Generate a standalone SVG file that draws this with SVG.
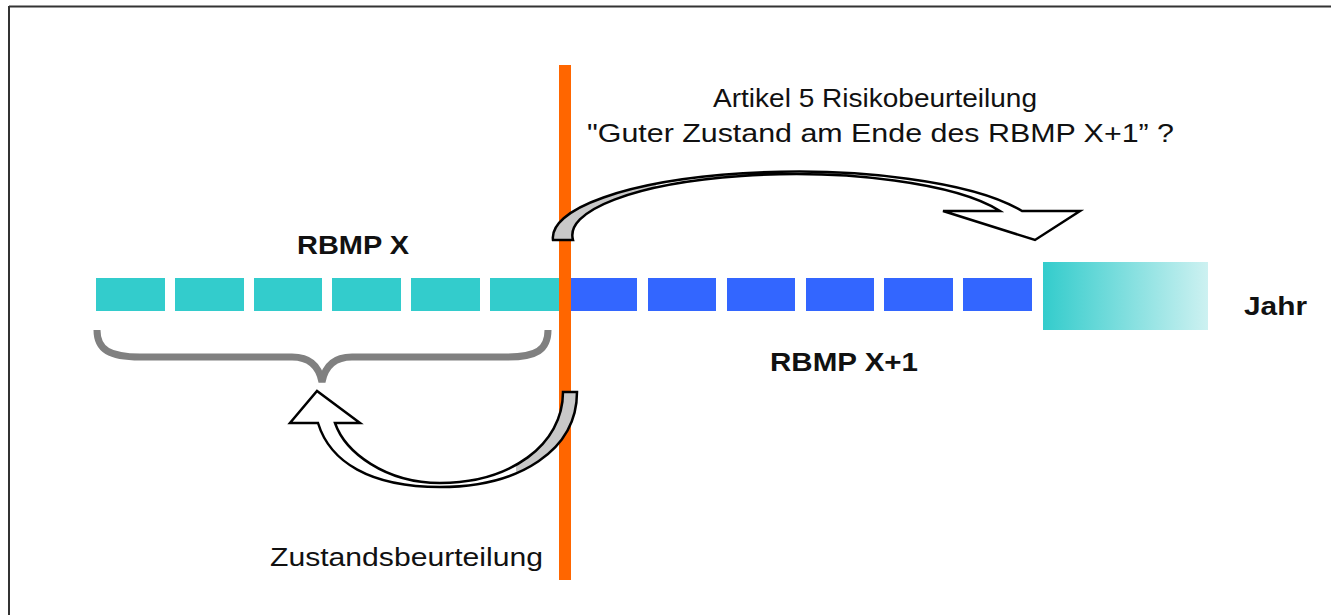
<svg xmlns="http://www.w3.org/2000/svg" width="1331" height="615" viewBox="0 0 1331 615">
<style>
.t{font-family:"Liberation Sans",Arial,sans-serif;font-size:25px;fill:#111}
.b{font-weight:bold}
.teal{fill:#33cccc}
.blue{fill:#3366ff}
.arrow{stroke:#000;stroke-width:2.5;stroke-linejoin:miter}
</style>
<defs>
<linearGradient id="fade" x1="0" y1="0" x2="1" y2="0">
<stop offset="0" stop-color="#33cccc"/>
<stop offset="1" stop-color="#cdf1f1"/>
</linearGradient>
<linearGradient id="upFill" gradientUnits="userSpaceOnUse" x1="550" y1="0" x2="1080" y2="0">
<stop offset="0" stop-color="#c8c8c8"/>
<stop offset="0.2" stop-color="#c8c8c8"/>
<stop offset="0.2" stop-color="#ffffff"/>
<stop offset="1" stop-color="#ffffff"/>
</linearGradient>
<linearGradient id="lowFill" gradientUnits="userSpaceOnUse" x1="290" y1="0" x2="580" y2="0">
<stop offset="0" stop-color="#ffffff"/>
<stop offset="0.78" stop-color="#ffffff"/>
<stop offset="0.78" stop-color="#c8c8c8"/>
<stop offset="1" stop-color="#c8c8c8"/>
</linearGradient>
</defs>
<rect x="0" y="0" width="1331" height="615" fill="#fff"/>
<g id="frame" stroke="#333" stroke-width="2" fill="none">
<line x1="9" y1="6.5" x2="1331" y2="6.5"/>
<line x1="9" y1="6" x2="9" y2="615"/>
</g>
<g id="rbmp-x-bars">
<rect class="teal" x="96" y="278" width="69" height="33"/>
<rect class="teal" x="175" y="278" width="69" height="33"/>
<rect class="teal" x="254" y="278" width="68" height="33"/>
<rect class="teal" x="332" y="278" width="69" height="33"/>
<rect class="teal" x="411" y="278" width="69" height="33"/>
<rect class="teal" x="490" y="278" width="72" height="33"/>
</g>
<g id="rbmp-x1-bars">
<rect class="blue" x="562" y="278" width="75" height="33"/>
<rect class="blue" x="648" y="278" width="68" height="33"/>
<rect class="blue" x="727" y="278" width="68" height="33"/>
<rect class="blue" x="806" y="278" width="68" height="33"/>
<rect class="blue" x="884" y="278" width="69" height="33"/>
<rect class="blue" x="963" y="278" width="69" height="33"/>
</g>
<g id="future-block">
<rect x="1043" y="262" width="165" height="68" fill="url(#fade)"/>
</g>
<g id="brace">
<path d="M97,330 C97,350 110,357 140,357 L292,357 C310,357 319,366 322,382 C325,366 334,357 352,357 L508,357 C536,357 548,350 548,330" fill="none" stroke="#808080" stroke-width="7"/>
</g>
<g id="time-marker">
<rect x="559" y="65" width="12" height="515" fill="#ff6600"/>
</g>
<g id="connectors">
<path id="arrow-risk" class="arrow" fill="url(#upFill)" d="M553,240 A245 66 0 0 1 1022,211 L1080,211 L1035,240 L943,211 L1000,211 A223 61 0 0 0 573,240 Z"/>
<path id="arrow-status" class="arrow" fill="url(#lowFill)" d="M563,392 L577,392 C577,450 520,487 440,487 C370,487 330,462 318,423 L290,423 L317,391 L360,423 L335,423 C345,452 385,483 440,483 C510,483 563,445 563,392 Z"/>
</g>
<g id="labels">
<text class="t" x="713" y="107" textLength="324" lengthAdjust="spacingAndGlyphs">Artikel 5 Risikobeurteilung</text>
<text class="t" x="587" y="142" textLength="587" lengthAdjust="spacingAndGlyphs">"Guter Zustand am Ende des RBMP X+1” ?</text>
<text class="t b" x="297" y="254" textLength="112" lengthAdjust="spacingAndGlyphs">RBMP X</text>
<text class="t b" x="770" y="371" textLength="148" lengthAdjust="spacingAndGlyphs">RBMP X+1</text>
<text class="t b" x="1244" y="315" textLength="63" lengthAdjust="spacingAndGlyphs">Jahr</text>
<text class="t" x="270" y="566" textLength="273" lengthAdjust="spacingAndGlyphs">Zustandsbeurteilung</text>
</g>
</svg>
